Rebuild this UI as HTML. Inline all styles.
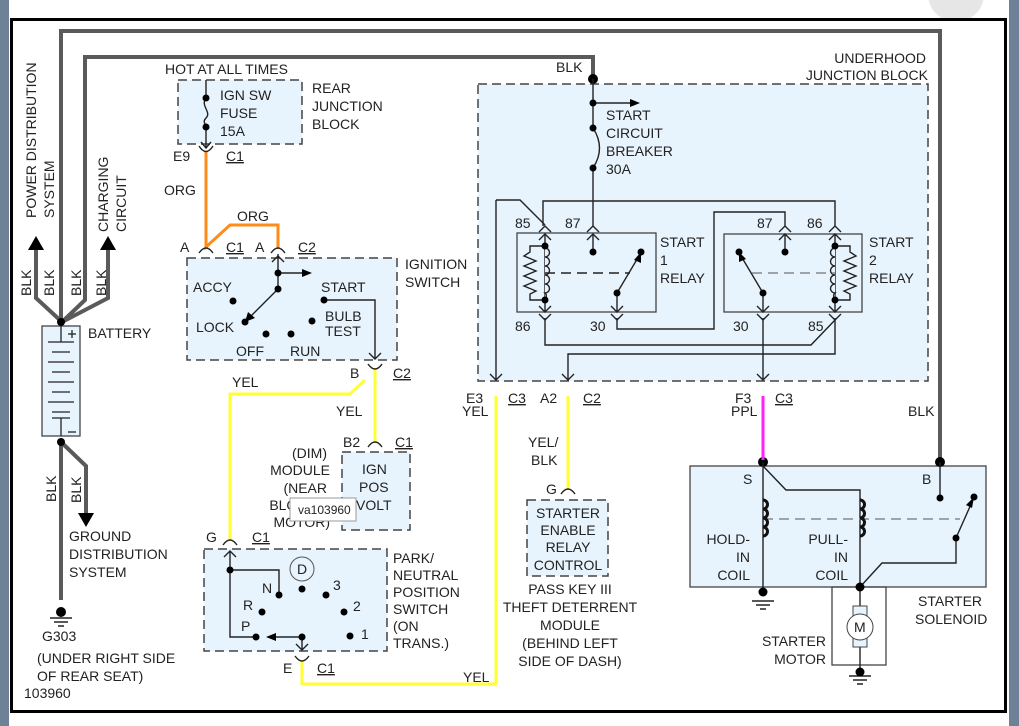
<!DOCTYPE html>
<html><head><meta charset="utf-8"><style>
html,body{margin:0;padding:0;background:#fff}
svg{display:block}
text{font-family:"Liberation Sans",sans-serif;font-size:14px;fill:#222}
.u{text-decoration:underline}
</style></head><body>
<svg width="1019" height="726" viewBox="0 0 1019 726" xmlns="http://www.w3.org/2000/svg">
<rect x="0" y="0" width="9" height="726" fill="#6f8197"/>
<rect x="1009" y="0" width="10" height="726" fill="#6f8197"/>
<circle cx="956" cy="-6" r="28" fill="#e6e6e6"/>
<rect x="11.5" y="19.5" width="994" height="692" fill="#fff" stroke="#000" stroke-width="3"/>

<g fill="#e8f4fd" stroke="#444" stroke-width="1.5" stroke-dasharray="9,5">
<rect x="178" y="80" width="124" height="64"/>
<rect x="187" y="258" width="210" height="102"/>
<rect x="342" y="452" width="68" height="78"/>
<rect x="204" y="549" width="183" height="102"/>
<rect x="478" y="84" width="450" height="297"/>
<rect x="527" y="500" width="81" height="76"/>
</g>
<g fill="#e8f4fd" stroke="#444" stroke-width="1.3">
<rect x="42" y="326" width="38" height="110"/>
<rect x="517" y="233" width="139" height="79"/>
<rect x="724" y="234" width="138" height="78"/>
<rect x="690" y="466" width="296" height="121"/>
</g>
<rect x="832" y="587" width="54" height="78" fill="none" stroke="#444" stroke-width="1.3"/>

<g fill="none" stroke="#5a5a5a" stroke-width="4">
<polyline points="61,326 61,31 940,31 940,462"/>
<polyline points="62,322 85,300 85,57 593,57 593,79"/>
<polyline points="62,322 36,298 36,248"/>
<polyline points="62,322 108,298 108,248"/>
<polyline points="61,442 61,600"/>
<polyline points="61,442 86,466 86,515"/>
</g>
<g fill="#000">
<polygon points="36,236 28,250 44,250"/>
<polygon points="108,236 100,250 116,250"/>
<polygon points="86,527 78,513 94,513"/>
<circle cx="61" cy="322" r="4"/><circle cx="61" cy="442" r="4"/>
<circle cx="61" cy="612" r="5"/>
<circle cx="593" cy="79" r="5"/><circle cx="763" cy="462" r="5"/><circle cx="940" cy="462" r="5"/>
</g>
<g stroke="#222" stroke-width="1.5"><line x1="50" y1="618" x2="72" y2="618"/><line x1="54" y1="622" x2="68" y2="622"/><line x1="58" y1="626" x2="64" y2="626"/></g>

<g stroke="#222" stroke-width="1.3">
<line x1="61" y1="326" x2="61" y2="342"/><line x1="48" y1="342" x2="74" y2="342"/>
<line x1="52" y1="352" x2="70" y2="352"/><line x1="48" y1="362" x2="74" y2="362"/>
<line x1="52" y1="372" x2="70" y2="372"/><line x1="48" y1="382" x2="74" y2="382"/>
<line x1="52" y1="392" x2="70" y2="392"/><line x1="48" y1="402" x2="74" y2="402"/>
<line x1="52" y1="412" x2="70" y2="412"/><line x1="61" y1="418" x2="61" y2="436"/>
<line x1="52" y1="418" x2="70" y2="418"/>
<line x1="68" y1="334" x2="76" y2="334"/><line x1="72" y1="330" x2="72" y2="338"/>
<line x1="68" y1="432" x2="76" y2="432"/>
</g>

<g fill="none" stroke-width="3">
<polyline stroke="#ff8c1a" points="206,152 206,247 230,225 278,225 278,248"/>
<polyline stroke="#ffff33" points="375,368 375,442"/>
<polyline stroke="#ffff33" points="365,380 350,394 230,394 230,540"/>
<polyline stroke="#ffff33" points="302,661 302,684 496,684 496,396"/>
<polyline stroke="#ffff33" points="568,396 568,490"/>
<polyline stroke="#ff22ff" points="763,396 763,460"/>
</g>

<g fill="none" stroke="#222" stroke-width="1.4">
<line x1="206" y1="80" x2="206" y2="98"/><path d="M206,98 C200,106 212,112 206,118 C202,122 206,124 206,127"/><line x1="206" y1="127" x2="206" y2="148"/>
<polyline points="201,142 206,148 211,142"/>
<path d="M199,146 Q206,157 213,146"/>
<path d="M199,253 Q206,243 213,253"/>
<path d="M271,253 Q278,243 285,253"/>
<path d="M368,364 Q375,374 382,364"/>
<path d="M368,447 Q375,437 382,447"/>
<path d="M223,545 Q230,535 237,545"/>
<path d="M295,656 Q302,666 309,656"/>
<path d="M561,494 Q568,484 575,494"/>
<polyline points="278,254 278,289"/><polyline points="272,262 278,256 284,262"/>
<line x1="278" y1="273" x2="302" y2="273"/>
<line x1="278" y1="289" x2="247" y2="320"/>
<polyline points="324,300 375,300 375,359"/><polyline points="369,353 375,359 381,353"/>
<polyline points="230,551 230,637 256,637"/><polyline points="224,557 230,551 236,557"/>
<polyline points="230,570 279,570 279,595"/>
<line x1="302" y1="637" x2="268" y2="637"/>
<line x1="302" y1="637" x2="302" y2="650"/><polyline points="296,644 302,650 308,644"/>
<line x1="593" y1="79" x2="593" y2="128"/><line x1="593" y1="103" x2="630" y2="103"/>
<path d="M593,128 Q606,148 593,168"/><line x1="593" y1="168" x2="593" y2="226"/>
<polyline points="496,200 520,200 545,225"/>
<line x1="496" y1="200" x2="496" y2="380"/><polyline points="490,374 496,380 502,374"/>
<polyline points="543,226 543,201 835,201 835,226"/>
<polyline points="785,226 785,212 714,212 714,329 617,329 617,318"/>
<polyline points="545,318 545,345 811,345 835,320"/>
<polyline points="835,318 835,354 568,354 568,380"/><polyline points="562,374 568,380 574,374"/>
<line x1="763" y1="318" x2="763" y2="380"/><polyline points="757,374 763,380 769,374"/>
<polyline points="539,232 545,226 551,232"/><polyline points="587,232 593,226 599,232"/>
<polyline points="779,232 785,226 791,232"/><polyline points="829,232 835,226 841,232"/>
<polyline points="539,240 545,234 551,240"/><polyline points="587,240 593,234 599,240"/>
<polyline points="779,240 785,234 791,240"/><polyline points="829,240 835,234 841,240"/>
<polyline points="539,306 545,312 551,306"/><polyline points="611,306 617,312 623,306"/>
<polyline points="757,306 763,312 769,306"/><polyline points="829,306 835,312 841,306"/>
<polyline points="539,314 545,320 551,314"/><polyline points="611,314 617,320 623,314"/>
<polyline points="757,314 763,320 769,314"/><polyline points="829,314 835,320 841,314"/>
<line x1="545" y1="234" x2="545" y2="312"/><line x1="593" y1="234" x2="593" y2="252"/>
<line x1="617" y1="293" x2="617" y2="312"/><line x1="763" y1="293" x2="763" y2="312"/>
<line x1="785" y1="234" x2="785" y2="252"/><line x1="835" y1="234" x2="835" y2="312"/>
<path d="M545,248 a4,4 0 0 1 0,9 a4,4 0 0 1 0,9 a4,4 0 0 1 0,9 a4,4 0 0 1 0,9 a4,4 0 0 1 0,9 a4,4 0 0 1 0,6" fill="#e8f4fd"/>
<polyline points="545,246 530,246 530,252 524,256 536,261 524,266 536,271 524,276 536,281 524,286 536,291 530,294 530,300 545,300"/>
<line x1="545" y1="273" x2="630" y2="273" stroke-dasharray="10,6"/>
<line x1="617" y1="293" x2="639" y2="256"/>
<path d="M835,248 a4,4 0 0 0 0,9 a4,4 0 0 0 0,9 a4,4 0 0 0 0,9 a4,4 0 0 0 0,9 a4,4 0 0 0 0,9 a4,4 0 0 0 0,6" fill="#e8f4fd"/>
<polyline points="835,246 850,246 850,252 856,256 844,261 856,266 844,271 856,276 844,281 856,286 844,291 850,294 850,300 835,300"/>
<line x1="752" y1="273" x2="835" y2="273" stroke="#888" stroke-dasharray="10,6"/>
<line x1="763" y1="293" x2="741" y2="256"/>
<line x1="763" y1="462" x2="763" y2="596"/>
<polyline points="763,466 786,490 860,490 860,665"/>
<line x1="763" y1="519" x2="960" y2="519" stroke="#888" stroke-dasharray="10,6"/>
<line x1="940" y1="462" x2="940" y2="498"/>
<line x1="956" y1="538" x2="972" y2="502"/>
<polyline points="956,538 956,563 882,563 860,587"/>
<line x1="860" y1="665" x2="860" y2="672"/>
</g>
<g fill="none" stroke="#111" stroke-width="3">
<path d="M763,500 a4,4 0 0 1 0,9 a4,4 0 0 1 0,9 a4,4 0 0 1 0,9 a4,4 0 0 1 0,9"/>
<path d="M860,500 a4,4 0 0 1 0,9 a4,4 0 0 1 0,9 a4,4 0 0 1 0,9 a4,4 0 0 1 0,9"/>
</g>
<rect x="853" y="606" width="14" height="10" fill="#e8f4fd" stroke="#444"/>
<rect x="853" y="637" width="14" height="10" fill="#e8f4fd" stroke="#444"/>
<circle cx="860" cy="627" r="13" fill="#fff" stroke="#444"/>
<text x="854" y="632">M</text>
<g stroke="#222" stroke-width="1.5">
<line x1="752" y1="601" x2="774" y2="601"/><line x1="756" y1="605" x2="770" y2="605"/><line x1="760" y1="609" x2="766" y2="609"/>
<line x1="849" y1="676" x2="871" y2="676"/><line x1="853" y1="680" x2="867" y2="680"/><line x1="857" y1="684" x2="863" y2="684"/>
</g>
<g fill="#000">
<polygon points="312,273 302,269 302,277"/>
<polygon points="245,322 248,312 255,318"/>
<polygon points="640,103 630,99 630,107"/>
<polygon points="641,252 634,260 641,263"/>
<polygon points="739,252 739,262 746,259"/>
<polygon points="974,497 966,505 972,508"/>
<polygon points="266,637 276,633 276,641"/>
</g>
<g fill="#000">
<circle cx="206" cy="98" r="3.5"/><circle cx="206" cy="127" r="3.5"/>
<circle cx="278" cy="273" r="3.5"/><circle cx="278" cy="289" r="3.5"/>
<circle cx="233" cy="301" r="3.5"/><circle cx="245" cy="322" r="3.5"/>
<circle cx="266" cy="334" r="3.5"/><circle cx="291" cy="334" r="3.5"/>
<circle cx="312" cy="321" r="3.5"/><circle cx="324" cy="300" r="3.5"/>
<circle cx="230" cy="570" r="3.5"/><circle cx="279" cy="595" r="3.5"/>
<circle cx="302" cy="589" r="3.5"/><circle cx="326" cy="595" r="3.5"/>
<circle cx="262" cy="612" r="3.5"/><circle cx="344" cy="612" r="3.5"/>
<circle cx="256" cy="637" r="3.5"/><circle cx="302" cy="637" r="3.5"/><circle cx="350" cy="636" r="3.5"/>
<circle cx="593" cy="103" r="3.5"/><circle cx="593" cy="128" r="3.5"/><circle cx="593" cy="168" r="3.5"/>
<circle cx="545" cy="246" r="3.5"/><circle cx="545" cy="300" r="3.5"/><circle cx="593" cy="252" r="3.5"/>
<circle cx="617" cy="293" r="3.5"/><circle cx="641" cy="252" r="3.5"/>
<circle cx="739" cy="252" r="3.5"/><circle cx="763" cy="293" r="3.5"/><circle cx="785" cy="252" r="3.5"/>
<circle cx="835" cy="246" r="3.5"/><circle cx="835" cy="300" r="3.5"/>
<circle cx="940" cy="498" r="3.5"/><circle cx="956" cy="538" r="3.5"/><circle cx="974" cy="497" r="3.5"/>
<circle cx="860" cy="587" r="4.5"/><circle cx="763" cy="592" r="4.5"/><circle cx="860" cy="672" r="4.5"/>
</g>
<circle cx="302" cy="569" r="12" fill="none" stroke="#555"/>
<text x="297" y="574">D</text>

<g transform="rotate(-90)">
<text x="-218" y="36">POWER DISTRIBUTION</text><text x="-218" y="54">SYSTEM</text>
<text x="-232" y="108">CHARGING</text><text x="-232" y="126">CIRCUIT</text>
<text x="-296" y="31">BLK</text><text x="-296" y="54">BLK</text><text x="-296" y="81">BLK</text><text x="-296" y="106">BLK</text>
<text x="-502" y="56">BLK</text><text x="-503" y="81">BLK</text>
</g>
<text x="88" y="338">BATTERY</text>
<text x="69" y="541">GROUND</text><text x="69" y="559">DISTRIBUTION</text><text x="69" y="577">SYSTEM</text>
<text x="42" y="641">G303</text><text x="37" y="663">(UNDER RIGHT SIDE</text><text x="37" y="681">OF REAR SEAT)</text>
<text x="24" y="698">103960</text>
<text x="165" y="74">HOT AT ALL TIMES</text>
<text x="220" y="100">IGN SW</text><text x="220" y="118">FUSE</text><text x="220" y="136">15A</text>
<text x="312" y="93">REAR</text><text x="312" y="111">JUNCTION</text><text x="312" y="129">BLOCK</text>
<text x="173" y="161">E9</text><text x="226" y="161" class="u">C1</text>
<text x="164" y="195">ORG</text><text x="237" y="221">ORG</text>
<text x="180" y="252">A</text><text x="226" y="252" class="u">C1</text><text x="255" y="252">A</text><text x="298" y="252" class="u">C2</text>
<text x="405" y="269">IGNITION</text><text x="405" y="287">SWITCH</text>
<text x="193" y="292">ACCY</text><text x="196" y="332">LOCK</text><text x="236" y="356">OFF</text><text x="290" y="356">RUN</text>
<text x="321" y="292">START</text><text x="325" y="321">BULB</text><text x="325" y="336">TEST</text>
<text x="350" y="378">B</text><text x="393" y="378" class="u">C2</text>
<text x="232" y="387">YEL</text><text x="336" y="416">YEL</text>
<text x="343" y="447">B2</text><text x="395" y="447" class="u">C1</text>
<text x="362" y="474">IGN</text><text x="359" y="492">POS</text><text x="356" y="510">VOLT</text>
<g text-anchor="end"><text x="327" y="458">(DIM)</text><text x="330" y="475">MODULE</text><text x="327" y="493">(NEAR</text><text x="330" y="510">BLOWER</text><text x="330" y="527">MOTOR)</text></g>
<rect x="290" y="498" width="66" height="23" fill="#fff" stroke="#999"/>
<text x="298" y="514" style="font-size:12px">va103960</text>
<text x="206" y="542">G</text><text x="252" y="542" class="u">C1</text>
<text x="393" y="563">PARK/</text><text x="393" y="580">NEUTRAL</text><text x="393" y="597">POSITION</text><text x="393" y="614">SWITCH</text><text x="393" y="631">(ON</text><text x="393" y="648">TRANS.)</text>
<text x="262" y="593">N</text><text x="333" y="590">3</text><text x="243" y="610">R</text><text x="353" y="611">2</text><text x="241" y="631">P</text><text x="361" y="639">1</text>
<text x="283" y="673">E</text><text x="317" y="673" class="u">C1</text>
<text x="463" y="682">YEL</text>
<text x="556" y="72">BLK</text>
<text x="926" y="63" text-anchor="end">UNDERHOOD</text><text x="928" y="80" text-anchor="end">JUNCTION BLOCK</text>
<text x="606" y="120">START</text><text x="606" y="138">CIRCUIT</text><text x="606" y="156">BREAKER</text><text x="606" y="174">30A</text>
<text x="515" y="228">85</text><text x="565" y="228">87</text><text x="757" y="228">87</text><text x="807" y="228">86</text>
<text x="660" y="247">START</text><text x="660" y="265">1</text><text x="660" y="283">RELAY</text>
<text x="869" y="247">START</text><text x="869" y="265">2</text><text x="869" y="283">RELAY</text>
<text x="515" y="331">86</text><text x="590" y="331">30</text><text x="733" y="331">30</text><text x="808" y="331">85</text>
<text x="466" y="403">E3</text><text x="462" y="416">YEL</text><text x="508" y="403" class="u">C3</text>
<text x="540" y="403">A2</text><text x="583" y="403" class="u">C2</text>
<text x="735" y="403">F3</text><text x="731" y="416">PPL</text><text x="775" y="403" class="u">C3</text>
<text x="908" y="416">BLK</text>
<text x="528" y="447">YEL/</text><text x="531" y="465">BLK</text>
<text x="546" y="494">G</text>
<g text-anchor="middle">
<text x="568" y="518">STARTER</text><text x="568" y="535">ENABLE</text><text x="568" y="552">RELAY</text><text x="568" y="570">CONTROL</text>
<text x="570" y="594">PASS KEY III</text><text x="570" y="612">THEFT DETERRENT</text><text x="570" y="630">MODULE</text><text x="570" y="648">(BEHIND LEFT</text><text x="570" y="666">SIDE OF DASH)</text>
</g>
<text x="743" y="484">S</text><text x="922" y="484">B</text>
<g text-anchor="end">
<text x="750" y="544">HOLD-</text><text x="750" y="562">IN</text><text x="750" y="580">COIL</text>
<text x="848" y="544">PULL-</text><text x="848" y="562">IN</text><text x="848" y="580">COIL</text>
<text x="826" y="646">STARTER</text><text x="826" y="664">MOTOR</text>
</g>
<text x="918" y="606">STARTER</text><text x="915" y="624">SOLENOID</text>
</svg>
</body></html>
